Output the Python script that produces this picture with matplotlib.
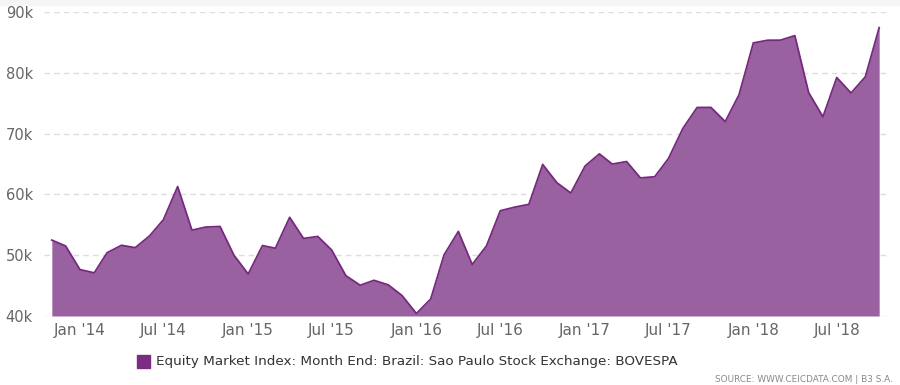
import pandas as pd
import matplotlib
matplotlib.use("Agg")
from matplotlib import pyplot as plt
import matplotlib.dates as mdates

months = pd.date_range("2013-11-01", periods=60, freq="MS")
bovespa = [52482, 51507, 47639, 47094, 50415, 51627, 51239, 53168, 55829, 61288,
           54116, 54629, 54724, 50007, 46908, 51583, 51150, 56229, 52760, 53081,
           50865, 46626, 45059, 45869, 45120, 43350, 40406, 42793, 50055, 53910,
           48471, 51527, 57308, 57901, 58367, 64925, 61906, 60227, 64671, 66662,
           64984, 65403, 62711, 62900, 65920, 70835, 74294, 74308, 71971, 76402,
           84913, 85354, 85366, 86115, 76754, 72763, 79220, 76678, 79342, 87424]
yticks = [40000, 50000, 60000, 70000, 80000, 90000]
series_name = "Equity Market Index: Month End: Brazil: Sao Paulo Stock Exchange: BOVESPA"
source = "SOURCE: WWW.CEICDATA.COM | B3 S.A."

fill_col = "#9961a0"
line_col = "#76297f"

fig = plt.figure(figsize=(9, 3.85), dpi=100)
fig.patch.set_facecolor("white")
fig.add_artist(plt.Rectangle((0, 1 - 5 / 385), 1, 5 / 385, transform=fig.transFigure,
                             color="#f5f5f5", zorder=0))

ax = fig.add_axes([44 / 900, 1 - 316 / 385, 843 / 900, 304 / 385])
ax.fill_between(months, bovespa, 40000, color=fill_col, lw=0, zorder=2)
ax.plot(months, bovespa, color=line_col, lw=1.3, zorder=3)

pad = pd.Timedelta(days=17)
ax.set_xlim(months[0] - pad, months[-1] + pad)
ax.set_ylim(40000, 90000)
ax.set_yticks(yticks)
ax.set_yticklabels([f"{v // 1000}k" for v in yticks])
ax.yaxis.grid(True, color="#dddddd", linestyle=(0, (4, 3)), lw=1, zorder=1)
ax.set_axisbelow(True)

ax.xaxis.set_major_locator(mdates.MonthLocator(bymonth=[1, 7]))
ax.xaxis.set_major_formatter(mdates.DateFormatter("%b '%y"))

for s in ax.spines.values():
    s.set_visible(False)
ax.tick_params(axis="y", length=0, pad=8, labelsize=10.5, labelcolor="#666666")
ax.tick_params(axis="x", length=0, pad=5, labelsize=11, labelcolor="#666666")

fig.patches.append(plt.Rectangle((137 / 900, 1 - 368 / 385), 13 / 900, 13 / 385,
                                 transform=fig.transFigure, color="#7b2d83"))
fig.text(156 / 900, 1 - 361 / 385, series_name, fontsize=9.7,
         color="#333333", va="center", ha="left")
fig.text(893 / 900, 1 - 380 / 385, source, fontsize=6.4,
         color="#888888", va="center", ha="right")

fig.savefig("out.png", dpi=100)
